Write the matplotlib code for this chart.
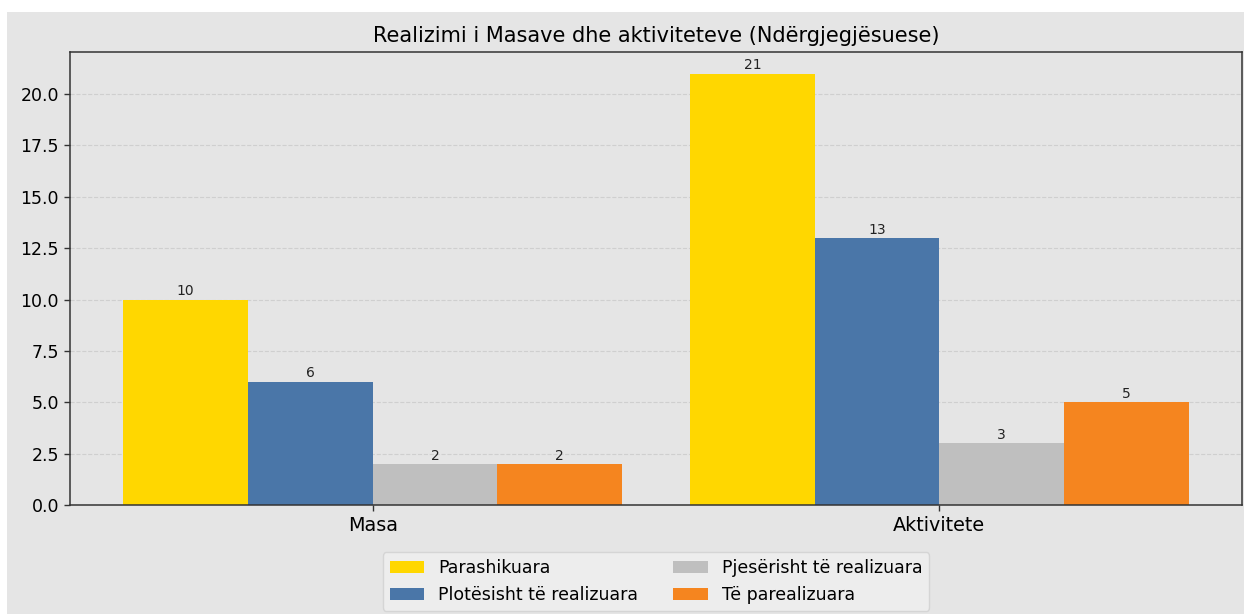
import matplotlib
matplotlib.use("Agg")
import matplotlib.pyplot as plt
import numpy as np
from matplotlib.patches import Rectangle

categories = ["Masa", "Aktivitete"]
series_names = ["Parashikuara", "Plotësisht të realizuara", "Pjesërisht të realizuara", "Të parealizuara"]
parashikuara = [10, 21]
plotesisht = [6, 13]
pjeserisht = [2, 3]
parealizuara = [2, 5]
colors = ["#FFD700", "#4A76A8", "#BFBFBF", "#F5851F"]
title = "Realizimi i Masave dhe aktiviteteve (Ndërgjegjësuese)"

W, H = 1244, 614
fig = plt.figure(figsize=(W / 100, H / 100), dpi=100)
fig.patch.set_facecolor("white")
fig.patches.append(Rectangle((7 / W, 0), 1 - 7 / W, 1 - 12 / H, transform=fig.transFigure,
                             facecolor="#E5E5E5", edgecolor="none", zorder=-10))

ax = fig.add_axes([70 / W, 1 - 505 / H, (1242 - 70) / W, (505 - 52) / H])
ax.set_facecolor("#E5E5E5")
ax.set_axisbelow(True)
ax.yaxis.grid(True, linestyle="--", color="#CFCFCF", linewidth=0.8)

x = np.arange(len(categories))
width = 0.22
data = [parashikuara, plotesisht, pjeserisht, parealizuara]
for i, (vals, name, c) in enumerate(zip(data, series_names, colors)):
    bars = ax.bar(x + (i - 1.5) * width, vals, width, label=name, color=c)
    ax.bar_label(bars, labels=[str(v) for v in vals], padding=1, fontsize=10, color="#222222")

ax.set_xticks(x)
ax.set_xticklabels(categories, fontsize=13.75)
ax.tick_params(axis="y", labelsize=12.5)
ax.tick_params(length=4.4, width=1.0, color="#333333")
ax.set_title(title, fontsize=15, pad=7)
for s in ax.spines.values():
    s.set_color("#333333")
    s.set_linewidth(1.1)

leg = ax.legend(loc="upper center", bbox_to_anchor=(0.5, -0.085), ncol=2, fontsize=12.5,
                frameon=True, facecolor="#F0F0F0", edgecolor="#D0D0D0")

fig.savefig("out.png", dpi=100)
